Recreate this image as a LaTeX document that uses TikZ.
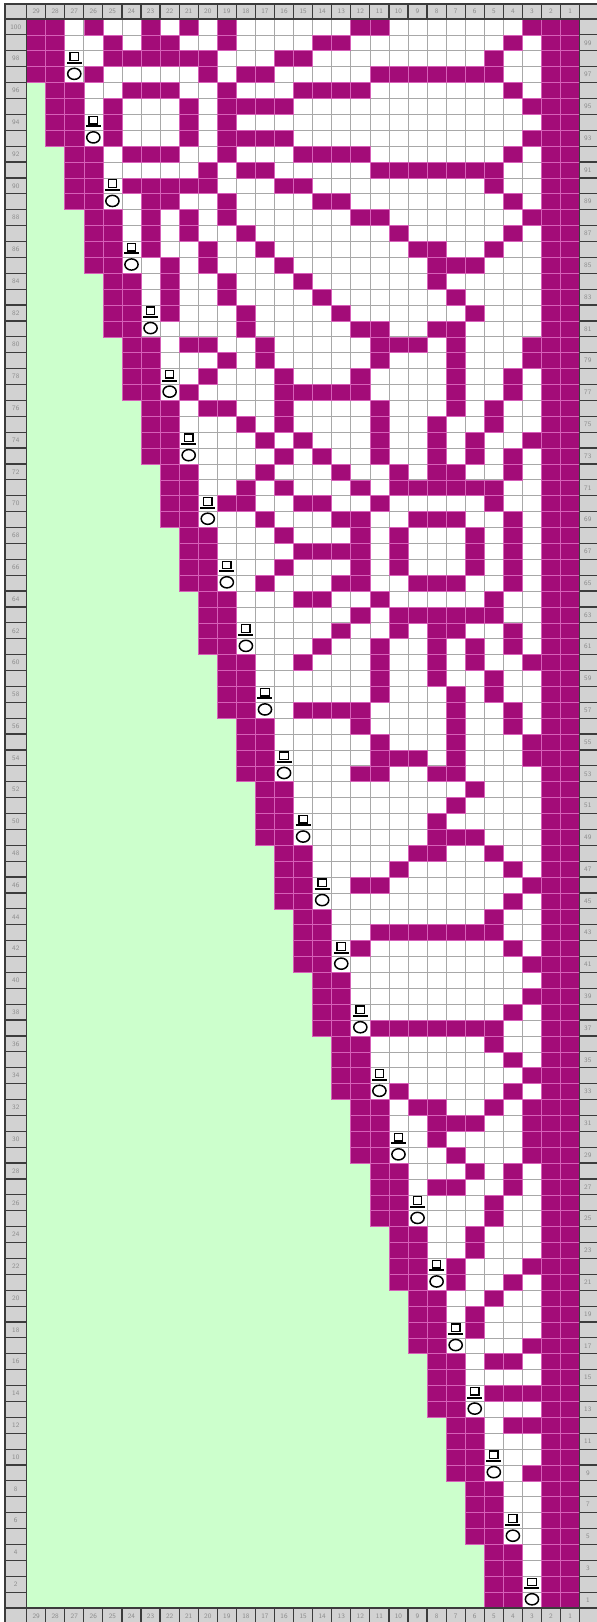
\documentclass[tikz,border=0pt]{standalone}
\usepackage{xcolor}
\definecolor{cPlum}{HTML}{A30C78}
\definecolor{cSeam}{HTML}{D660B8}
\definecolor{cMint}{HTML}{CCFFCC}
\definecolor{cGrid}{HTML}{A8A8A8}
\definecolor{cHead}{HTML}{D2D2D2}
\definecolor{cHeadLine}{HTML}{3C3C3C}
\definecolor{cHeadText}{HTML}{8C8C8C}
\usepackage{tikz}
% chart geometry, in pixels of the source chart
\def\gx{26.6}\def\gy{19}\def\cw{19.07}\def\rh{15.89}
\newcommand{\stitch}[2]{\draw[plum] ({\gx+\cw*(#1-1)},{\gy+\rh*(#2-1)}) rectangle +(\cw,\rh);}

\begin{document}
\begin{tikzpicture}[x=0.5pt,y=-0.5pt,
  plum/.style={fill=cPlum,draw=cSeam,line width=0.3pt},
  gridline/.style={draw=cGrid,line width=0.35pt},
  head/.style={fill=cHead,draw=cHeadLine,line width=0.6pt},
  headnum/.style={font=\fontsize{3.4}{4}\selectfont\sffamily,text=cHeadText,inner sep=0pt},
  yo/.style={draw=black,fill=white,line width=0.75pt},
  decmark/.style={draw=black,line width=0.65pt}]
\useasboundingbox (0,0) rectangle (596,1622);
\fill[white] (0,0) rectangle (596,1622);
% grid
\fill[white] (\gx,\gy) rectangle ({\gx+29*\cw},{\gy+100*\rh});
\foreach \c in {0,...,29}
  \draw[gridline] ({\gx+\c*\cw},\gy) -- ({\gx+\c*\cw},{\gy+100*\rh});
\foreach \r in {0,...,100}
  \draw[gridline] (\gx,{\gy+\r*\rh}) -- ({\gx+29*\cw},{\gy+\r*\rh});
% empty area left of the decreases
\foreach \k in {1,...,24}
  \fill[cMint] ({\gx+\cw*(\k-1)},{\gy+\rh*4*\k}) rectangle ({\gx+\cw*\k+0.4},{\gy+100*\rh});
% edge stitches
\foreach \r in {1,...,100}{
  \pgfmathtruncatemacro{\k}{int((\r-1)/4)}
  \stitch{\k+1}{\r}
  \stitch{\k+2}{\r}
  \stitch{28}{\r}
  \stitch{29}{\r}
}
% pattern stitches, row by row from the top
\foreach \r/\cl in {
  1/{4,7,9,11,18,19,27}, 2/{5,7,8,11,16,17,26}, 3/{5,6,7,8,9,10,14,15,25},
  4/{4,10,12,13,19,20,21,22,23,24,25}, 5/{6,7,8,11,15,16,17,18,26},
  6/{5,9,11,12,13,14,27}, 7/{5,9,11}, 8/{5,9,11,12,13,14,27},
  9/{6,7,8,11,15,16,17,18,26}, 10/{10,12,13,19,20,21,22,23,24,25},
  11/{6,7,8,9,10,14,15,25}, 12/{7,8,11,16,17,26}, 13/{7,9,11,18,19,27},
  14/{7,9,12,20,26}, 15/{7,10,13,21,22,25}, 16/{8,10,14,22,23,24},
  17/{8,11,15,22}, 18/{8,11,16,23}, 19/{8,12,17,24}, 20/{12,18,19,22,23},
  21/{9,10,13,19,20,21,23,27}, 22/{11,13,19,23,27}, 23/{10,14,18,23,26},
  24/{9,14,15,16,17,18,23,26}, 25/{10,11,14,19,23,25}, 26/{12,14,19,22,25},
  27/{13,15,19,22,24,27}, 28/{14,16,19,22,24,26}, 29/{13,17,20,22,23,26},
  30/{12,14,18,20,21,22,23,24,25}, 31/{11,12,15,16,19,25},
  32/{13,17,18,21,22,23,26}, 33/{14,18,20,24,26}, 34/{15,16,17,18,20,24,26},
  35/{14,18,20,24,26}, 36/{13,17,18,21,22,23,26}, 37/{15,16,19,25},
  38/{18,20,21,22,23,24,25}, 39/{17,20,22,23,26}, 40/{16,19,22,24,26},
  41/{15,19,22,24,27}, 42/{19,22,25}, 43/{19,23,25}, 44/{15,16,17,18,23,26},
  45/{18,23,26}, 46/{19,23,27}, 47/{19,20,21,23,27}, 48/{18,19,22,23},
  49/{24}, 50/{23}, 51/{22}, 52/{22,23,24}, 53/{21,22,25}, 54/{20,26},
  55/{18,19,27}, 56/{26}, 57/{25}, 58/{19,20,21,22,23,24,25}, 59/{18,26},
  60/{27}, 62/{27}, 63/{26}, 64/{19,20,21,22,23,24,25}, 65/{25}, 66/{26},
  67/{27}, 68/{20,26}, 69/{21,22,25,27}, 70/{22,23,24,27}, 71/{22,27},
  72/{23,27}, 73/{24,26}, 74/{22,23,26}, 75/{25}, 76/{25}, 77/{24}, 78/{24},
  79/{23,27}, 80/{23,26}, 81/{25}, 82/{24}, 83/{24}, 84/{27}, 85/{25,26},
  87/{25,26,27}, 89/{26,27}, 92/{27}}{
  \foreach \c in \cl {\stitch{\c}{\r}}
}
% decrease and yarn over at the left edge
\foreach \k in {0,...,24}{
  \pgfmathsetmacro{\sx}{\gx+\cw*(\k+2.5)}
  \pgfmathsetmacro{\dy}{\gy+\rh*(4*\k+2.5)}
  \pgfmathsetmacro{\oy}{\gy+\rh*(4*\k+3.45)}
  \draw[decmark] (\sx-4.2,\dy-6) rectangle (\sx+4.2,\dy+1.6);
  \draw[decmark,line width=1pt] (\sx-7.5,\dy+4) -- (\sx+7.5,\dy+4);
  \draw[yo] (\sx,\oy) ellipse [x radius=6.6,y radius=5.6];
}
% number bands
\draw[head] (5,4) rectangle (\gx,\gy);
\draw[head] ({\gx+29*\cw},4) rectangle (599,\gy);
\draw[head] (5,{\gy+100*\rh}) rectangle (\gx,1626);
\draw[head] ({\gx+29*\cw},{\gy+100*\rh}) rectangle (599,1626);
\foreach \c in {1,...,29}{
  \pgfmathtruncatemacro{\n}{30-\c}
  \draw[head] ({\gx+\cw*(\c-1)},4) rectangle +(\cw,{\gy-4});
  \node[headnum] (top-\c) at ({\gx+\cw*(\c-0.5)},11.5) {\n};
  \draw[head] ({\gx+\cw*(\c-1)},{\gy+100*\rh}) rectangle +(\cw,17);
  \node[headnum] (bot-\c) at ({\gx+\cw*(\c-0.5)},1616) {\n};
}
\foreach \r in {1,...,100}{
  \pgfmathtruncatemacro{\n}{101-\r}
  \draw[head] (5,{\gy+\rh*(\r-1)}) rectangle (\gx,{\gy+\rh*\r});
  \draw[head] ({\gx+29*\cw},{\gy+\rh*(\r-1)}) rectangle (599,{\gy+\rh*\r});
  \ifodd\r
    \node[headnum] (lft-\r) at ({(5+\gx)/2},{\gy+\rh*(\r-0.5)}) {\n};
  \else
    \node[headnum] (rgt-\r) at ({(\gx+29*\cw+596)/2},{\gy+\rh*(\r-0.5)}) {\n};
  \fi
}
\end{tikzpicture}
\end{document}
